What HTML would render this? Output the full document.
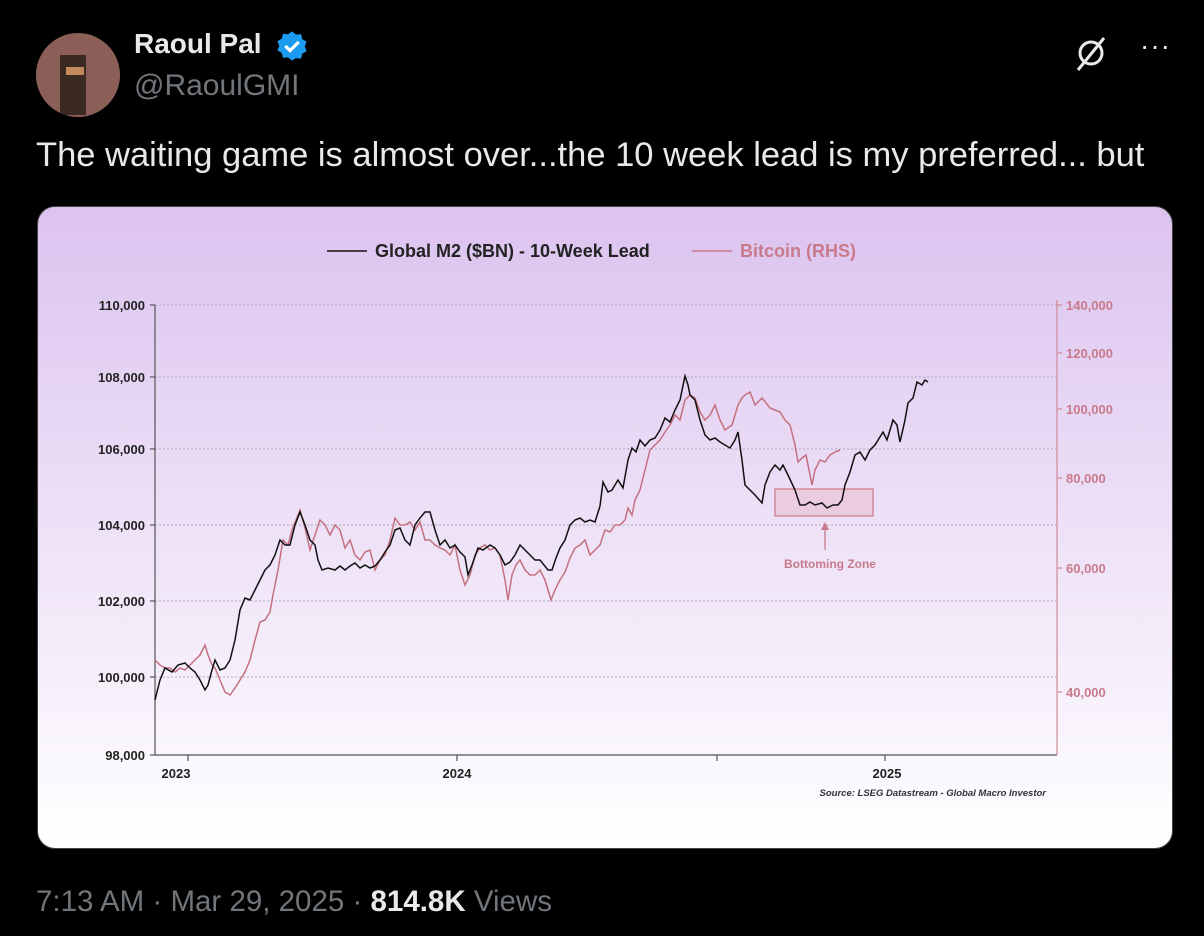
<!DOCTYPE html>
<html><head><meta charset="utf-8"><style>
body{margin:0;background:#000;width:1204px;height:936px;overflow:hidden;font-family:"Liberation Sans",sans-serif;position:relative}
.a{position:absolute}
</style></head><body>
<div class="a" style="left:36px;top:33px;width:84px;height:84px;border-radius:50%;background:#8b5f57;overflow:hidden">
 <div class="a" style="left:24px;top:22px;width:26px;height:60px;background:#3a2a22"></div>
 <div class="a" style="left:30px;top:34px;width:18px;height:8px;background:#c08a5a"></div>
</div>
<div class="a" style="left:134px;top:28px;color:#e7e9ea;font-weight:bold;font-size:28px">Raoul Pal</div>
<svg class="a" style="left:276px;top:30px" width="32" height="32" viewBox="0 0 24 24"><path fill="#1d9bf0" d="M12 1l3 2.5 3.8-.4.9 3.7 3.3 2-1.5 3.5 1.5 3.5-3.3 2-.9 3.7-3.8-.4L12 23l-3-2.5-3.8.4-.9-3.7-3.3-2L2.5 12 1 8.5l3.3-2 .9-3.7 3.8.4z"/><path d="M7 12l3.5 3.5L17 9" stroke="#fff" stroke-width="2.4" fill="none"/></svg>
<div class="a" style="left:134px;top:69px;color:#71767b;font-size:30px">@RaoulGMI</div>
<svg class="a" style="left:1070px;top:34px" width="40" height="40" viewBox="0 0 40 40"><circle cx="21" cy="19" r="11" stroke="#e7e9ea" stroke-width="3" fill="none"/><line x1="8" y1="36" x2="34" y2="4" stroke="#e7e9ea" stroke-width="3"/></svg>
<div class="a" style="left:1140px;top:30px;color:#e7e9ea;font-size:28px;letter-spacing:1px">···</div>
<div class="a" style="left:36px;top:136px;color:#e7e9ea;font-size:34.5px">The waiting game is almost over...the 10 week lead is my preferred... but</div>

<div class="a" style="left:37px;top:206px;width:1134px;height:641px;border-radius:18px;border:1px solid #444;background:linear-gradient(#dcc3ef,#ffffff);overflow:hidden"></div>
<svg class="a" style="left:0;top:0" width="1204" height="936" font-family="Liberation Sans, sans-serif">
<g stroke="#b0a8b8" stroke-dasharray="2,2" stroke-width="1">
<line x1="155" x2="1057" y1="305" y2="305"/><line x1="155" x2="1057" y1="377" y2="377"/><line x1="155" x2="1057" y1="449" y2="449"/><line x1="155" x2="1057" y1="525" y2="525"/><line x1="155" x2="1057" y1="601" y2="601"/><line x1="155" x2="1057" y1="677" y2="677"/>
</g>
<g stroke="#555" stroke-width="1.2"><line x1="155" y1="305" x2="155" y2="755"/><line x1="155" y1="755" x2="1057" y2="755"/>
<line x1="150" x2="155" y1="305" y2="305"/><line x1="150" x2="155" y1="377" y2="377"/><line x1="150" x2="155" y1="449" y2="449"/><line x1="150" x2="155" y1="525" y2="525"/><line x1="150" x2="155" y1="601" y2="601"/><line x1="150" x2="155" y1="677" y2="677"/><line x1="150" x2="155" y1="755" y2="755"/>
<line x1="188" x2="188" y1="755" y2="761"/><line x1="457" x2="457" y1="755" y2="761"/><line x1="717" x2="717" y1="755" y2="761"/><line x1="885" x2="885" y1="755" y2="761"/></g>
<g stroke="#d08a98" stroke-width="1.2"><line x1="1057" y1="300" x2="1057" y2="755"/>
<line x1="1057" x2="1062" y1="305" y2="305"/><line x1="1057" x2="1062" y1="353" y2="353"/><line x1="1057" x2="1062" y1="409" y2="409"/><line x1="1057" x2="1062" y1="478" y2="478"/><line x1="1057" x2="1062" y1="568" y2="568"/><line x1="1057" x2="1062" y1="692" y2="692"/></g>
<g font-size="13" font-weight="bold" fill="#222" text-anchor="end">
<text x="145" y="310">110,000</text><text x="145" y="382">108,000</text><text x="145" y="454">106,000</text><text x="145" y="530">104,000</text><text x="145" y="606">102,000</text><text x="145" y="682">100,000</text><text x="145" y="760">98,000</text></g>
<g font-size="13" font-weight="bold" fill="#c87a8a"><text x="1066" y="310">140,000</text><text x="1066" y="358">120,000</text><text x="1066" y="414">100,000</text><text x="1066" y="483">80,000</text><text x="1066" y="573">60,000</text><text x="1066" y="697">40,000</text></g>
<g font-size="13" font-weight="bold" fill="#222" text-anchor="middle"><text x="176" y="778">2023</text><text x="457" y="778">2024</text><text x="887" y="778">2025</text></g>
<text x="1046" y="796" font-size="9.5" font-style="italic" font-weight="bold" fill="#333" text-anchor="end">Source: LSEG Datastream - Global Macro Investor</text>
<line x1="327" x2="367" y1="251" y2="251" stroke="#111" stroke-width="1.5"/>
<text x="375" y="257" font-size="18" font-weight="bold" fill="#222">Global M2 ($BN) - 10-Week Lead</text>
<line x1="692" x2="732" y1="251" y2="251" stroke="#c87a8a" stroke-width="1.5"/>
<text x="740" y="257" font-size="18" font-weight="bold" fill="#c87a8a">Bitcoin (RHS)</text>
<rect x="775" y="489" width="98" height="27" fill="#e8b8c8" fill-opacity="0.5" stroke="#d08a98" stroke-width="1.5"/>
<line x1="825" y1="550" x2="825" y2="525" stroke="#c87a8a" stroke-width="1.3"/><path d="M821 530 L825 522 L829 530Z" fill="#c87a8a"/>
<text x="830" y="568" font-size="12" font-weight="bold" fill="#c87a8a" text-anchor="middle">Bottoming Zone</text>
<polyline fill="none" stroke="#c4707f" stroke-width="1.5" points="155,660 160,665 165,668 170,668 175,672 180,668 185,670 190,665 195,660 200,655 205,645 208,655 212,665 215,668 220,680 225,692 230,695 235,688 240,680 245,672 250,660 255,640 260,622 265,620 270,612 273,595 278,570 283,540 288,545 292,530 296,520 300,510 305,528 310,550 315,535 320,520 325,525 330,535 335,525 340,530 345,548 350,540 355,555 360,560 365,552 370,550 375,570 380,560 385,555 390,540 395,518 400,525 405,525 410,522 415,530 420,522 425,540 430,540 435,545 440,548 445,550 450,555 455,545 460,570 465,585 470,575 475,555 480,548 485,545 490,550 495,548 500,555 505,580 508,600 512,575 516,565 520,560 525,570 530,575 535,575 540,570 545,580 548,590 551,600 555,590 560,580 565,572 570,558 575,548 580,545 585,540 590,555 595,550 600,545 605,530 610,532 615,525 620,525 625,520 628,508 632,515 635,500 640,490 645,470 650,450 655,445 660,440 665,432 670,425 675,415 680,420 685,400 690,395 695,398 700,412 705,420 710,415 715,405 720,420 725,430 732,425 738,405 742,398 745,395 750,392 755,405 762,398 770,408 775,410 780,412 785,420 790,425 795,445 798,462 802,458 806,455 810,475 812,485 815,470 820,460 825,462 830,455 835,452 840,450"/>
<polyline fill="none" stroke="#111" stroke-width="1.5" points="155,700 160,680 165,668 172,672 178,665 185,663 190,668 195,672 200,680 205,690 208,685 212,670 215,660 220,670 225,668 230,660 235,640 240,610 245,598 250,600 255,590 260,580 265,570 270,565 275,555 280,540 285,545 290,545 295,525 300,512 305,525 310,540 315,545 318,560 322,570 328,568 335,570 340,566 345,570 350,566 355,563 360,568 365,565 370,568 375,566 380,560 385,552 390,545 395,530 400,528 405,540 410,545 415,525 420,518 425,512 430,512 435,530 440,545 445,540 450,548 455,545 460,552 465,557 468,575 472,565 478,548 483,550 490,545 495,548 500,555 505,565 510,562 515,555 520,545 525,550 530,555 535,560 540,560 548,570 552,570 556,558 560,548 565,540 570,525 575,520 580,518 585,522 590,520 595,522 600,506 603,482 608,492 612,490 618,480 623,488 628,460 632,448 636,452 640,440 645,446 650,440 655,438 660,430 665,418 670,422 675,410 680,400 685,376 688,385 690,395 695,400 700,420 705,435 710,440 715,438 720,442 725,445 730,448 735,440 738,432 742,460 745,485 750,490 755,495 762,503 765,485 770,472 775,465 780,470 783,465 788,475 795,490 800,505 805,505 810,502 815,505 822,503 827,508 833,505 838,505 842,500 845,485 850,472 855,455 860,452 865,460 870,450 875,445 883,432 887,440 893,420 897,425 900,442 905,420 908,403 913,398 917,382 922,385 925,380 928,382"/>
</svg>
<div class="a" style="left:36px;top:885px;color:#71767b;font-size:29.5px">7:13 AM · Mar 29, 2025 · <b style="color:#e7e9ea">814.8K</b> Views</div>
</body></html>
